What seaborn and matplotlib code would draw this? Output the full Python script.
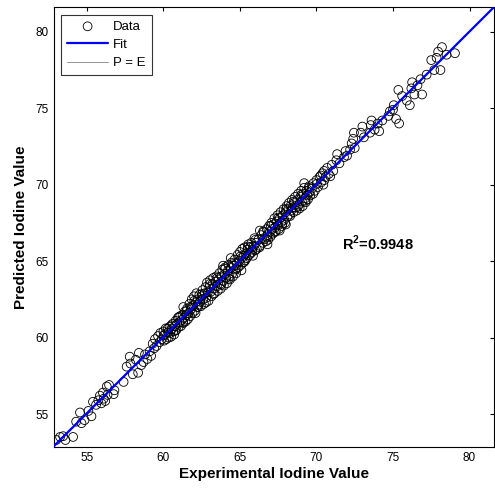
import numpy as np
import pandas as pd
import seaborn as sns
import matplotlib
matplotlib.use("Agg")
import matplotlib.pyplot as plt

# values (experimental vs predicted iodine value)
experimental = [
    53.0, 53.25, 53.45, 53.6, 54.1, 54.3, 54.55, 54.65, 54.85, 55.1, 55.3, 55.4,
    55.6, 55.75, 55.85, 55.95, 56.05, 56.1, 56.2, 56.3, 56.35, 56.45, 56.75, 56.8,
    57.4, 57.6, 57.8, 57.85, 58.0, 58.2, 58.35, 58.4, 58.55, 58.7, 58.8, 58.95,
    59.1, 59.2, 59.3, 59.4, 59.45, 59.55, 59.65, 59.75, 59.8, 59.9,
    60.0, 60.05, 60.1, 60.15, 60.2, 60.3, 60.35, 60.4, 60.45, 60.5, 60.55, 60.6,
    60.65, 60.7, 60.75, 60.8, 60.85, 60.9, 60.95, 61.0, 61.05, 61.1, 61.15, 61.2,
    61.25, 61.3, 61.35, 61.4, 61.45, 61.5, 61.55, 61.6, 61.65, 61.7, 61.75, 61.8,
    61.85, 61.9, 61.95, 62.0, 62.05, 62.1, 62.15, 62.2, 62.25, 62.3, 62.35, 62.4,
    62.45, 62.5, 62.55, 62.6, 62.65, 62.7, 62.75, 62.8, 62.85, 62.9, 62.95, 63.0,
    63.05, 63.1, 63.15, 63.2, 63.25, 63.3, 63.35, 63.4, 63.45, 63.5, 63.55, 63.6,
    63.65, 63.7, 63.75, 63.8, 63.85, 63.9, 63.95, 64.0, 64.05, 64.1, 64.15, 64.2,
    64.25, 64.3, 64.35, 64.4, 64.45, 64.5, 64.55, 64.6, 64.65, 64.7, 64.75, 64.8,
    64.85, 64.9, 64.95, 65.0, 65.05, 65.1, 65.15, 65.2, 65.25, 65.3, 65.35, 65.4,
    65.45, 65.5, 65.55, 65.6, 65.65, 65.7, 65.75, 65.8, 65.85, 65.9, 65.95, 66.0,
    66.05, 66.1, 66.2, 66.3, 66.4, 66.5, 66.55, 66.6, 66.7, 66.75, 66.8, 66.85,
    66.9, 66.95, 67.0, 67.05, 67.1, 67.15, 67.2, 67.25, 67.3, 67.35, 67.4, 67.45,
    67.5, 67.55, 67.6, 67.65, 67.7, 67.75, 67.8, 67.85, 67.9, 67.95, 68.0, 68.05,
    68.1, 68.15, 68.2, 68.25, 68.3, 68.35, 68.4, 68.45, 68.5, 68.55, 68.6, 68.65,
    68.7, 68.75, 68.8, 68.85, 68.9, 68.95, 69.0, 69.05, 69.1, 69.15, 69.2, 69.25,
    69.3, 69.35, 69.4, 69.45, 69.5, 69.55, 69.6, 69.7, 69.8, 69.9, 70.0, 70.1,
    70.2, 70.3, 70.4, 70.45, 70.5,
    60.02, 60.28, 60.52, 60.78, 61.02, 61.28, 61.52, 61.78, 62.02, 62.28, 62.52,
    62.78, 63.02, 63.28, 63.52, 63.78, 64.02, 64.28, 64.52, 64.78, 65.02, 65.28,
    65.52, 65.78, 66.02, 66.28, 66.52, 66.78, 67.02, 67.28, 67.52, 67.78, 68.02,
    68.28, 68.52, 68.78, 69.02, 69.28, 69.52, 69.78, 70.02, 70.28, 70.52,
    62.1, 63.9, 65.1, 66.3, 67.6, 69.2, 61.3, 64.4, 68.0, 66.8,
    70.6, 70.7, 70.8, 70.9, 71.0, 71.1, 71.3, 71.35, 71.5, 71.8, 71.9, 72.0,
    72.2, 72.3, 72.4, 72.5, 72.45, 72.9, 73.0, 73.1, 73.5, 73.55, 73.6, 73.8,
    74.0, 74.1, 74.3, 74.7, 74.8, 75.0, 75.05, 75.2, 75.4, 75.35, 75.6, 75.9,
    76.1, 76.2, 76.25, 76.4, 76.6, 76.8, 76.9, 77.2, 77.5, 77.7, 77.85, 77.95,
    78.1, 78.2, 78.5, 79.05,
]
predicted = [
    53.3, 53.5, 53.55, 53.3, 53.5, 54.5, 55.1, 54.4, 54.6, 55.2, 54.85, 55.8,
    55.6, 55.9, 56.2, 55.7, 56.4, 56.0, 55.85, 56.8, 56.25, 56.9, 56.3, 56.55,
    57.1, 58.1, 58.75, 58.3, 57.6, 58.55, 57.7, 59.0, 58.2, 58.4, 58.9, 58.6,
    59.1, 58.8, 59.6, 59.3, 59.9, 59.45, 60.1, 59.7, 60.3, 59.9,
    60.4, 59.8, 60.2, 60.6, 59.9, 60.35, 60.0, 60.7, 60.3, 60.05, 60.55, 60.9,
    60.4, 60.2, 60.75, 61.1, 60.5, 60.9, 61.3, 60.7, 61.0, 61.4, 60.75, 61.15,
    61.5, 60.95, 61.3, 61.7, 61.05, 61.45, 61.9, 61.2, 61.6, 62.2, 61.4, 61.85,
    62.5, 61.6, 62.1, 62.7, 61.75, 62.3, 62.9, 62.0, 62.5, 62.15, 62.8, 62.35,
    62.05, 62.7, 63.1, 62.5, 62.2, 62.9, 63.3, 62.6, 63.6, 62.95, 62.4, 63.3,
    63.75, 63.0, 62.7, 63.5, 63.9, 63.2, 62.9, 63.65, 64.0, 63.35, 63.05, 63.8,
    64.2, 63.5, 63.2, 64.0, 64.45, 63.7, 63.4, 64.15, 64.6, 63.9, 63.55, 64.35,
    64.75, 64.0, 63.8, 64.55, 64.9, 64.2, 64.0, 64.7, 65.1, 64.45, 64.2, 64.9,
    65.4, 64.6, 65.0, 65.6, 64.75, 65.2, 65.8, 64.9, 65.35, 65.9, 65.05, 65.5,
    65.2, 65.75, 66.1, 65.4, 65.9, 65.5, 66.2, 65.75, 65.35, 66.0, 66.5, 65.7,
    66.2, 65.8, 66.4, 66.0, 66.7, 66.2, 66.9, 66.45, 66.3, 67.1, 66.7, 66.4,
    67.3, 66.9, 66.6, 67.5, 67.1, 66.8, 67.4, 67.8, 67.2, 66.95, 67.6, 68.0,
    67.35, 67.1, 67.8, 68.2, 67.55, 67.3, 68.0, 68.4, 67.7, 67.5, 68.2, 68.6,
    67.9, 68.4, 68.8, 68.05, 68.6, 68.3, 69.0, 68.5, 68.2, 68.8, 69.2, 68.5,
    68.3, 69.0, 69.4, 68.7, 68.45, 69.2, 69.6, 68.9, 68.6, 69.4, 69.8, 69.1,
    68.85, 69.6, 69.3, 69.05, 69.8, 69.5, 69.3, 69.75, 70.1, 69.6, 70.3, 69.85,
    70.5, 70.15, 70.75, 70.0, 70.9,
    60.15, 60.6, 60.8, 60.45, 61.35, 61.0, 61.75, 62.0, 62.4, 62.0, 62.85,
    62.3, 63.5, 62.85, 63.9, 63.45, 64.5, 63.85, 64.8, 64.5, 65.3, 64.95,
    65.95, 65.6, 66.4, 65.9, 66.95, 66.55, 67.3, 66.9, 67.85, 67.45, 68.4,
    67.95, 68.9, 68.55, 69.35, 68.95, 69.9, 69.4, 70.05, 70.6, 70.3,
    61.6, 64.7, 64.4, 67.0, 67.0, 70.1, 62.0, 65.2, 67.4, 66.1,
    70.5, 71.1, 70.7, 70.55, 71.3, 70.9, 71.6, 72.0, 71.4, 71.8, 72.2, 71.9,
    72.3, 72.7, 73.0, 72.4, 73.4, 73.4, 73.8, 73.1, 73.4, 73.9, 74.2, 73.6,
    74.0, 73.5, 74.2, 74.5, 74.8, 74.9, 75.2, 74.3, 74.0, 76.2, 75.8, 75.5,
    75.2, 76.3, 76.7, 75.9, 76.5, 76.9, 75.9, 77.2, 78.15, 77.5, 78.3, 78.7,
    77.5, 79.0, 78.5, 78.6,
]
r2_text = "R$^\\mathbf{2}$=0.9948"
axis_lim = (52.85, 81.6)
tick_vals = [55, 60, 65, 70, 75, 80]

df = pd.DataFrame({"exp": experimental, "pred": predicted})

sns.set_style("white")
plt.rcParams["font.family"] = ["Liberation Sans", "DejaVu Sans"]
plt.rcParams["mathtext.fontset"] = "custom"
plt.rcParams["mathtext.bf"] = "Liberation Sans:bold"
plt.rcParams["mathtext.rm"] = "Liberation Sans"
plt.rcParams["text.color"] = "black"
plt.rcParams["axes.labelcolor"] = "black"

fig = plt.figure(figsize=(4.95, 4.9), dpi=100)
ax = fig.add_axes([0.109, 0.088, 0.889, 0.897])

sns.scatterplot(data=df, x="exp", y="pred", ax=ax, marker="o", s=40,
                facecolor="none", edgecolor="black", linewidth=0.6,
                label="Data", zorder=3)
ax.set_xlim(axis_lim)
ax.set_ylim(axis_lim)

# least squares fit over the full axis range
sns.regplot(data=df, x="exp", y="pred", ax=ax, scatter=False, ci=None,
            truncate=False, color="#0000ff", label="Fit",
            line_kws={"linewidth": 1.6, "zorder": 4})
# predicted = experimental reference line
pe = pd.DataFrame({"x": list(axis_lim), "y": list(axis_lim)})
sns.lineplot(data=pe, x="x", y="y", ax=ax, color="#808080", linewidth=0.6,
             label="P = E", zorder=2)

ax.set_xlim(axis_lim)
ax.set_ylim(axis_lim)
ax.set_xticks(tick_vals)
ax.set_yticks(tick_vals)
ax.tick_params(direction="in", length=3, width=0.8, labelsize=8.5,
               top=True, right=True, colors="black", pad=4)
for sp in ax.spines.values():
    sp.set_linewidth(0.8)
    sp.set_color("black")

ax.set_xlabel("Experimental Iodine Value", fontsize=11, fontweight="bold", labelpad=2)
ax.set_ylabel("Predicted Iodine Value", fontsize=11, fontweight="bold", labelpad=5)

ax.text(71.7, 65.7, r2_text, fontsize=10.5, fontweight="bold")

leg = ax.legend(loc="upper left", fontsize=9.5, handlelength=3.1, frameon=True,
                fancybox=False, borderaxespad=0.55, labelspacing=0.45,
                borderpad=0.45, handletextpad=0.4)
leg.get_frame().set_edgecolor("black")
leg.get_frame().set_linewidth(0.8)

fig.savefig("out.png", dpi=100)
